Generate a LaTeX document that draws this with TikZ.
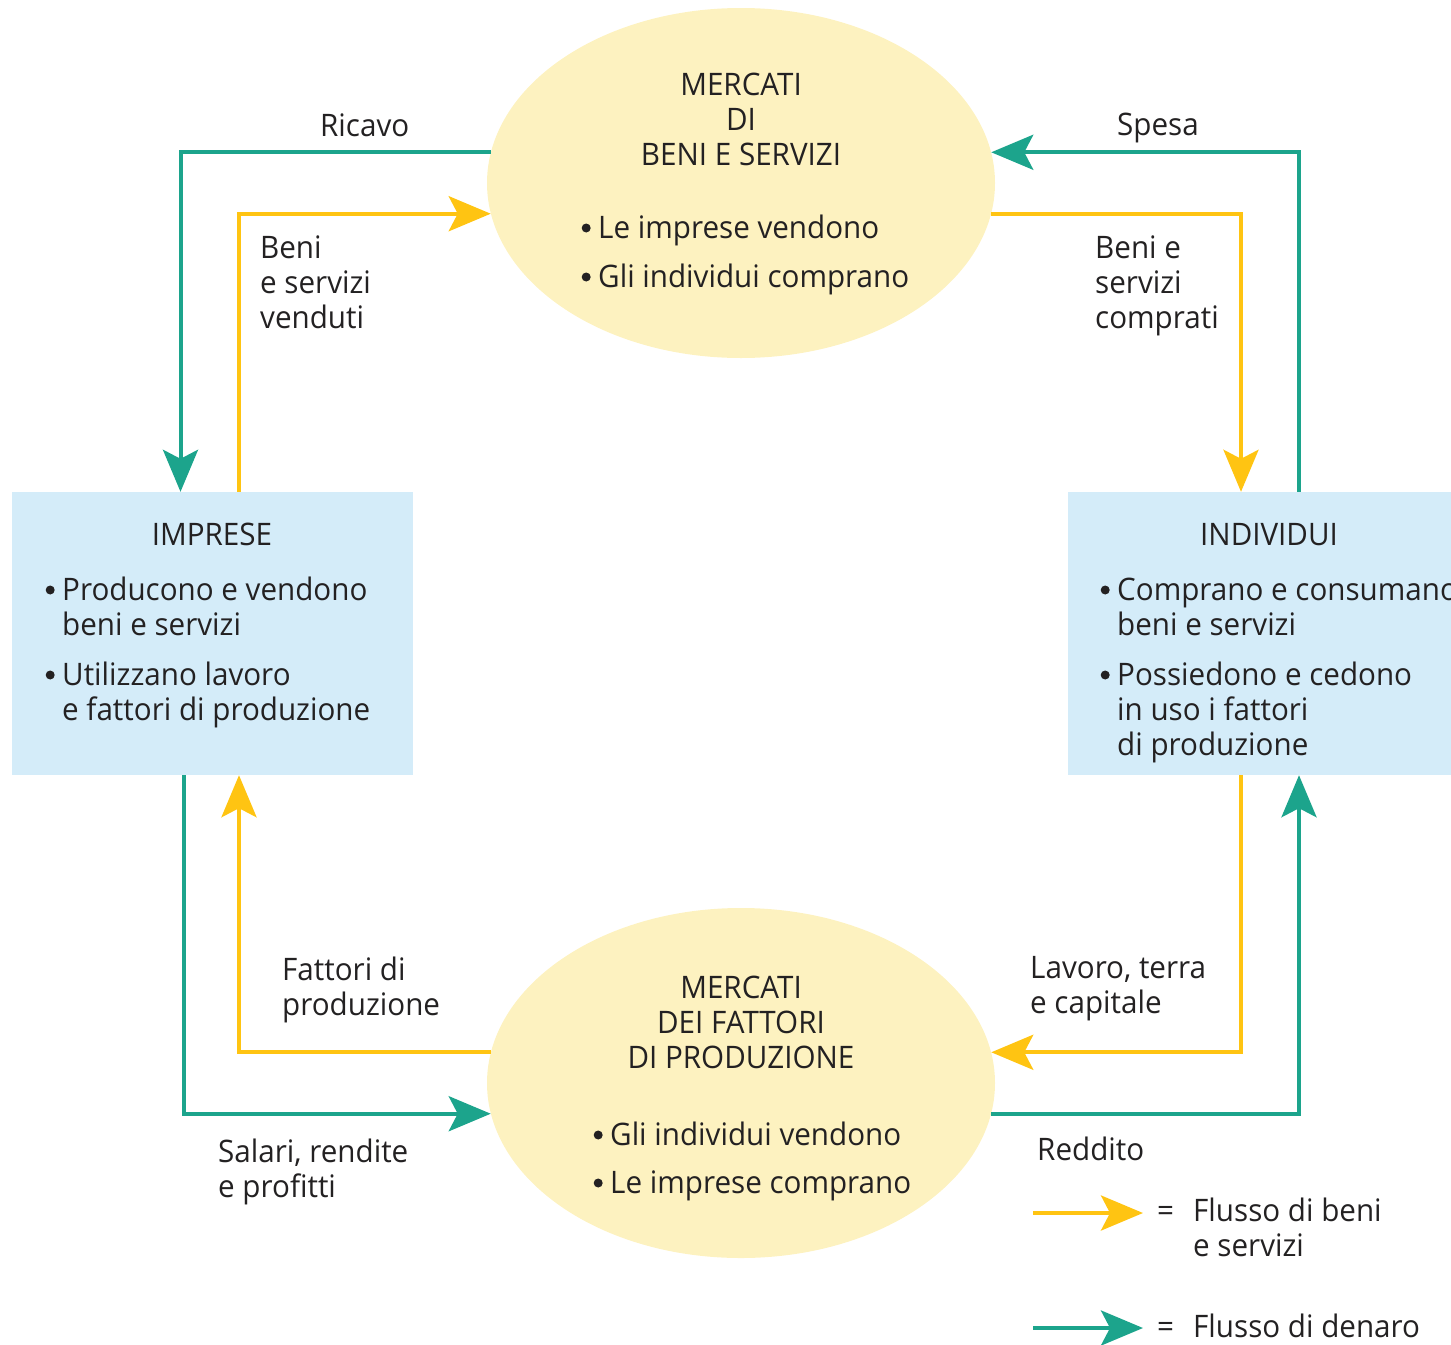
\documentclass[tikz,border=0pt]{standalone}
\usepackage{fontspec}
\setmainfont[FakeStretch=0.955]{Open Sans}
\usetikzlibrary{arrows.meta,shapes.geometric}
\definecolor{moneyc}{RGB}{28,164,140}
\definecolor{goodsc}{RGB}{255,196,18}
\definecolor{ellfill}{RGB}{253,242,192}
\definecolor{boxfill}{RGB}{212,236,249}
\definecolor{txtc}{RGB}{35,33,34}
\tikzset{
  flow/.style={line width=4pt, -{Stealth[length=42pt,width=35pt,inset=9pt]}},
  money/.style={flow, draw=moneyc},
  goods/.style={flow, draw=goodsc},
  market/.style={ellipse, fill=ellfill, minimum width=508pt, minimum height=350pt, inner sep=0pt},
  agent/.style={rectangle, fill=boxfill, minimum width=401pt, minimum height=283pt, inner sep=0pt},
  lbl/.style={font=\fontsize{31}{35}\selectfont, text=txtc, inner sep=0pt, align=left, anchor=base west},
  ttl/.style={font=\fontsize{31}{35}\selectfont, text=txtc, inner sep=0pt, align=center, anchor=base},
}
\newcommand{\bul}{\llap{\tikz[baseline=0pt,x=1pt,y=1pt]\fill[txtc] (0,10) circle[radius=4.5];\hspace{7.5pt}}}
\begin{document}
\begin{tikzpicture}[x=1pt,y=-1pt]
\useasboundingbox (0,0) rectangle (1451,1344);
\clip (0,0) rectangle (1451,1344);
% shapes
\node[market] (mb) at (741,183) {};
\node[market] (mf) at (741,1083) {};
\node[agent] (imp) at (212.5,633.5) {};
\node[agent] (ind) at (1268,633.5) {};
% connectors
\draw[money] (mb.173) -| ([xshift=-32pt]imp.north);
\draw[goods] ([xshift=26.5pt]imp.north) |- (mb.187);
\draw[money] ([xshift=31pt]ind.north) |- (mb.7);
\draw[goods] (mb.353) -| ([xshift=-27pt]ind.north);
\draw[money] ([xshift=-28.5pt]imp.south) |- (mf.187);
\draw[goods] (mf.173) -| ([xshift=26.5pt]imp.south);
\draw[goods] ([xshift=-27pt]ind.south) |- (mf.7);
\draw[money] (mf.353) -| ([xshift=31pt]ind.south);
% texts in shapes (base anchor = baseline of last line)
\node[ttl] (mbt) at (741,165) {MERCATI\\DI\\BENI E SERVIZI};
\node[lbl] (mb1) at (598,238) {\bul Le imprese vendono};
\node[lbl] (mb2) at (598,287) {\bul Gli individui comprano};
\node[ttl] (mft) at (741,1068) {MERCATI\\DEI FATTORI\\DI PRODUZIONE};
\node[lbl] (mf1) at (610,1145) {\bul Gli individui vendono};
\node[lbl] (mf2) at (610,1193) {\bul Le imprese comprano};
\node[ttl] (impt) at (212,545) {IMPRESE};
\node[lbl] (imp1) at (62,635) {\bul Producono e vendono\\beni e servizi};
\node[lbl] (imp2) at (62,720) {\bul Utilizzano lavoro\\e fattori di produzione};
\node[ttl] (indt) at (1269,545) {INDIVIDUI};
\node[lbl] (ind1) at (1117,635) {\bul Comprano e consumano\\beni e servizi};
\node[lbl] (ind2) at (1117,755) {\bul Possiedono e cedono\\in uso i fattori\\di produzione};
% flow labels
\node[lbl] (ricavo) at (320,136) {Ricavo};
\node[lbl] (spesa) at (1117,135) {Spesa};
\node[lbl] (bsv) at (260,328) {Beni\\e servizi\\venduti};
\node[lbl] (bsc) at (1095,328) {Beni e\\servizi\\comprati};
\node[lbl] (fdp) at (282,1015) {Fattori di\\produzione};
\node[lbl] (ltc) at (1030,1013) {Lavoro, terra\\e capitale};
\node[lbl] (srp) at (218,1197) {Salari, rendite\\e profitti};
\node[lbl] (redd) at (1037,1160) {Reddito};
% legend
\coordinate (lg1a) at (1033,1213);
\coordinate (lg1b) at (1143,1213);
\coordinate (lg2a) at (1033,1328);
\coordinate (lg2b) at (1143,1328);
\draw[goods] (lg1a) -- (lg1b);
\draw[money] (lg2a) -- (lg2b);
\node[lbl] (eq1) at (1157,1221) {=};
\node[lbl] (lgt1) at (1193,1256) {Flusso di beni\\e servizi};
\node[lbl] (eq2) at (1157,1337) {=};
\node[lbl] (lgt2) at (1193,1337) {Flusso di denaro};
\end{tikzpicture}
\end{document}
